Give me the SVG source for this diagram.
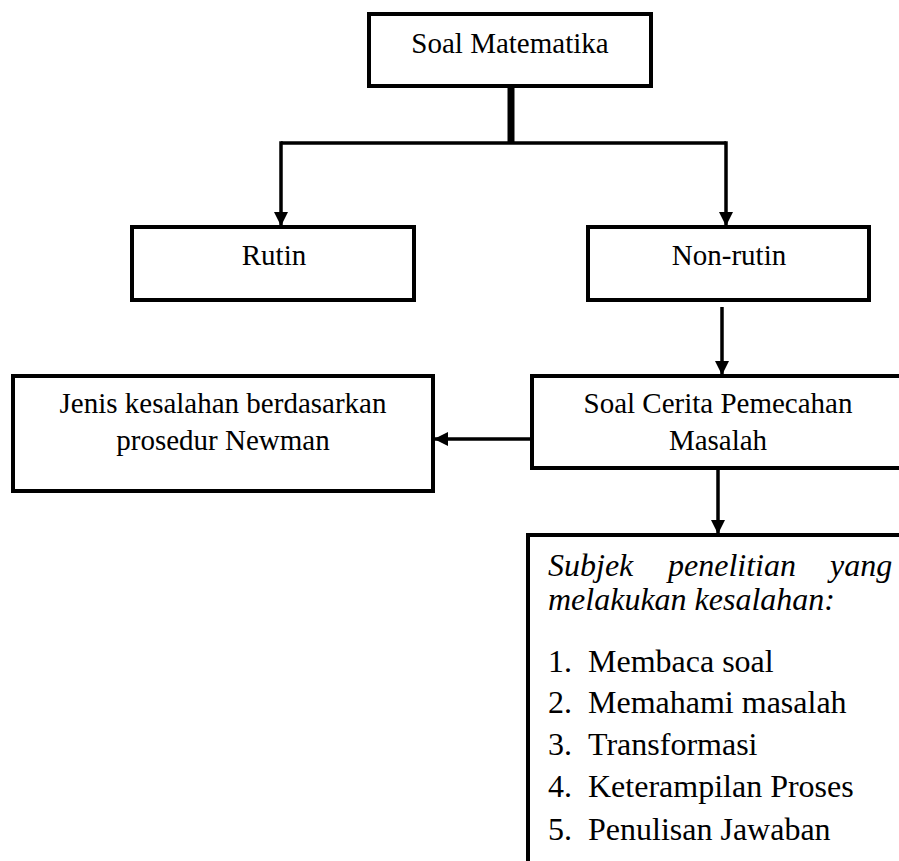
<svg xmlns="http://www.w3.org/2000/svg" width="899" height="861" viewBox="0 0 899 861">
<style>
.box{fill:#fff;stroke:#000;stroke-width:4}
text{font-family:'Liberation Serif','DejaVu Serif',serif;font-size:29px;fill:#000}
.c{text-anchor:middle}
.l{font-size:32px}
.i{font-style:italic}
.ln{fill:none;stroke:#000;stroke-width:3.5}
</style>
<defs>
<marker id="ah" markerUnits="userSpaceOnUse" markerWidth="16" markerHeight="14" refX="14" refY="7" orient="auto">
<path d="M0,0 L14,7 L0,14 Z" fill="#000"/>
</marker>
</defs>
<rect width="899" height="861" fill="#fff"/>
<g id="connectors">
<line x1="511" y1="86" x2="511" y2="143" stroke="#000" stroke-width="7"/>
<polyline class="ln" points="281,143 726,143"/>
<line class="ln" x1="281" y1="141.25" x2="281" y2="226" marker-end="url(#ah)"/>
<line class="ln" x1="726" y1="141.25" x2="726" y2="226" marker-end="url(#ah)"/>
<line class="ln" x1="722" y1="307" x2="722" y2="375" marker-end="url(#ah)"/>
<line class="ln" x1="532" y1="439" x2="434" y2="439" marker-end="url(#ah)"/>
<line class="ln" x1="718" y1="468" x2="718" y2="534" marker-end="url(#ah)"/>
</g>
<g id="soal-matematika">
<rect class="box" x="369" y="14" width="282" height="72"/>
<text class="c" x="510" y="53">Soal Matematika</text>
</g>
<g id="rutin">
<rect class="box" x="132" y="227" width="282" height="73"/>
<text class="c" x="274" y="265">Rutin</text>
</g>
<g id="non-rutin">
<rect class="box" x="588" y="227" width="281" height="73"/>
<text class="c" x="729" y="265">Non-rutin</text>
</g>
<g id="soal-cerita">
<rect class="box" x="532" y="376" width="380" height="92"/>
<text class="c" x="718" y="413">Soal Cerita Pemecahan</text>
<text class="c" x="718" y="450">Masalah</text>
</g>
<g id="jenis-kesalahan">
<rect class="box" x="13" y="376" width="420" height="115"/>
<text class="c" x="223" y="413">Jenis kesalahan berdasarkan</text>
<text class="c" x="223" y="450">prosedur Newman</text>
</g>
<g id="subjek">
<rect class="box" x="528" y="535" width="400" height="340"/>
<text class="l i" x="548" y="576">Subjek</text>
<text class="l i" x="668" y="576">penelitian</text>
<text class="l i" x="830" y="576">yang</text>
<text class="l i" x="548" y="610">melakukan kesalahan:</text>
<text class="l" x="548" y="672">1.</text><text class="l" x="588" y="672">Membaca soal</text>
<text class="l" x="548" y="713">2.</text><text class="l" x="588" y="713">Memahami masalah</text>
<text class="l" x="548" y="755">3.</text><text class="l" x="588" y="755">Transformasi</text>
<text class="l" x="548" y="797">4.</text><text class="l" x="588" y="797">Keterampilan Proses</text>
<text class="l" x="548" y="840">5.</text><text class="l" x="588" y="840">Penulisan Jawaban</text>
</g>
</svg>
